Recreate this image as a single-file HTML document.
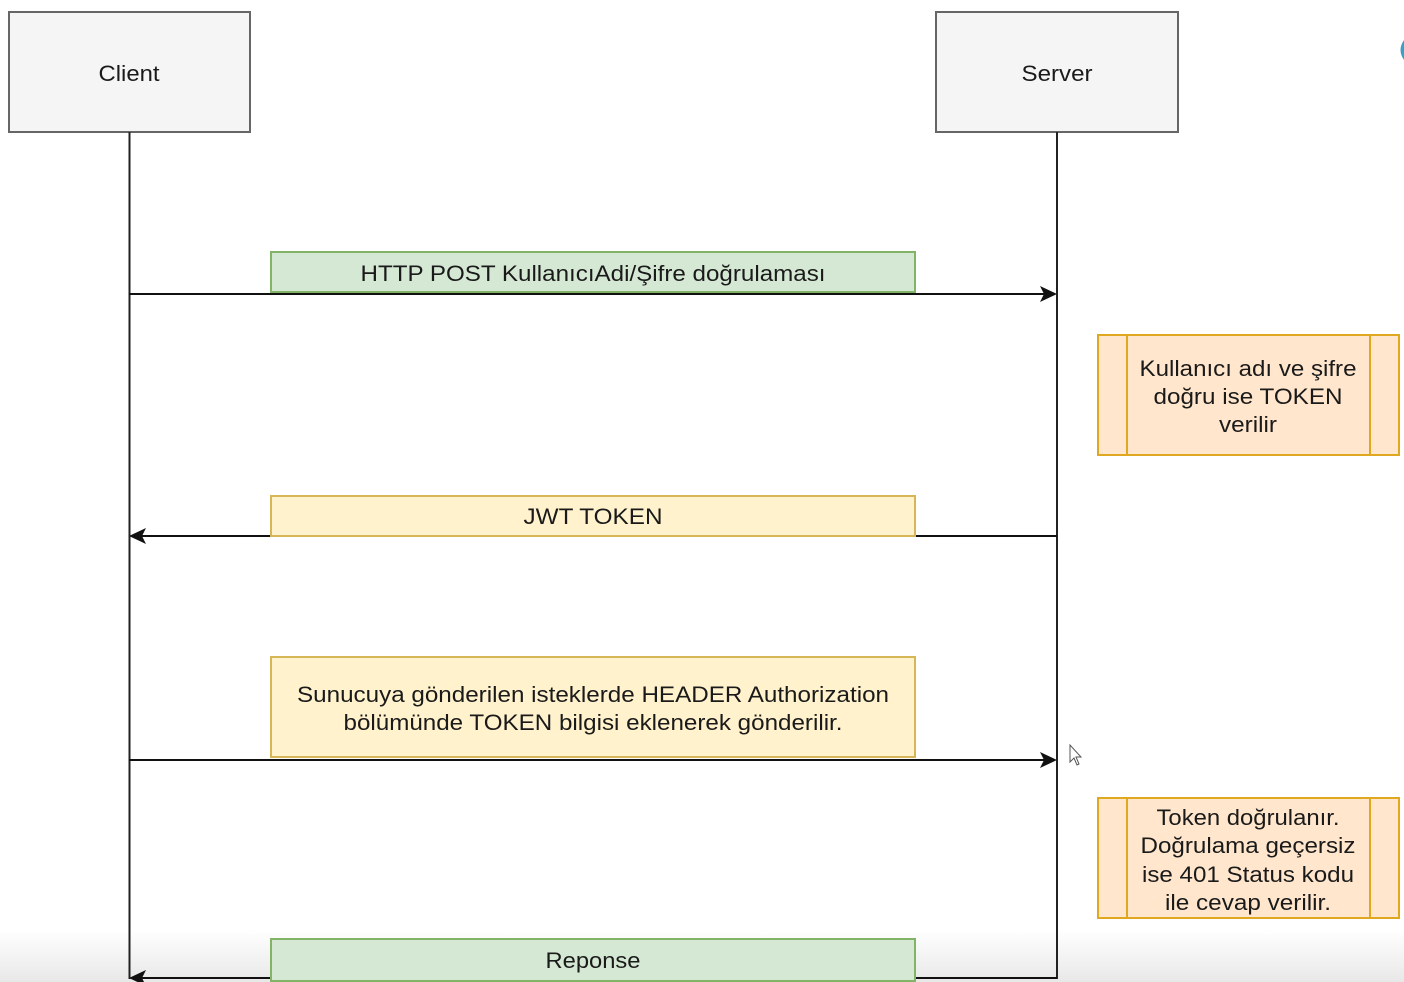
<!DOCTYPE html>
<html><head><meta charset="utf-8"><style>
html,body{margin:0;padding:0;background:#fff;width:1404px;height:982px;overflow:hidden}
svg{display:block}
text{font-family:"Liberation Sans",Arial,sans-serif;fill:#1a1a1a}
</style></head><body>
<svg width="1404" height="982" viewBox="0 0 1404 982" font-family="Liberation Sans, Arial, sans-serif">
<defs>
<linearGradient id="bg" x1="0" y1="0" x2="0" y2="1">
<stop offset="0" stop-color="#fff"/><stop offset="1" stop-color="#e8e8e8"/>
</linearGradient>
</defs>
<rect x="0" y="930" width="1404" height="52" fill="url(#bg)"/>
<rect x="9" y="12" width="241" height="120" fill="#f5f5f5" stroke="#666" stroke-width="2"/>
<text x="129" y="81" font-size="22" text-anchor="middle" textLength="61" lengthAdjust="spacingAndGlyphs">Client</text>
<rect x="936" y="12" width="242" height="120" fill="#f5f5f5" stroke="#666" stroke-width="2"/>
<text x="1057" y="81" font-size="22" text-anchor="middle" textLength="71" lengthAdjust="spacingAndGlyphs">Server</text>
<line x1="129.5" y1="132" x2="129.5" y2="979" stroke="#222" stroke-width="2"/>
<line x1="1057" y1="132" x2="1057" y2="979" stroke="#222" stroke-width="2"/>
<line x1="129" y1="294" x2="1045" y2="294" stroke="#111" stroke-width="2"/>
<polygon points="1057,294 1040,286 1044,294 1040,302" fill="#111"/>
<line x1="141" y1="536" x2="1057" y2="536" stroke="#111" stroke-width="2"/>
<polygon points="129,536 146,528 142,536 146,544" fill="#111"/>
<line x1="129" y1="760" x2="1045" y2="760" stroke="#111" stroke-width="2"/>
<polygon points="1057,760 1040,752 1044,760 1040,768" fill="#111"/>
<line x1="141" y1="978" x2="1057" y2="978" stroke="#111" stroke-width="2"/>
<polygon points="129,978 146,970 142,978 146,986" fill="#111"/>
<rect x="271" y="252" width="644" height="40" fill="#d5e8d4" stroke="#82b366" stroke-width="2"/>
<text x="593" y="281" font-size="22" text-anchor="middle" textLength="465" lengthAdjust="spacingAndGlyphs">HTTP POST KullanıcıAdi/Şifre doğrulaması</text>
<rect x="271" y="496" width="644" height="40" fill="#fff2cc" stroke="#d6b656" stroke-width="2"/>
<text x="593" y="524" font-size="22" text-anchor="middle" textLength="139" lengthAdjust="spacingAndGlyphs">JWT TOKEN</text>
<rect x="271" y="657" width="644" height="100" fill="#fff2cc" stroke="#d6b656" stroke-width="2"/>
<text x="593" y="702" font-size="22" text-anchor="middle" textLength="592" lengthAdjust="spacingAndGlyphs">Sunucuya gönderilen isteklerde HEADER Authorization</text>
<text x="593" y="730" font-size="22" text-anchor="middle" textLength="499" lengthAdjust="spacingAndGlyphs">bölümünde TOKEN bilgisi eklenerek gönderilir.</text>
<rect x="271" y="939" width="644" height="42" fill="#d5e8d4" stroke="#82b366" stroke-width="2"/>
<text x="593" y="968" font-size="22" text-anchor="middle" textLength="95" lengthAdjust="spacingAndGlyphs">Reponse</text>
<rect x="1098" y="335" width="301" height="120" fill="#ffe6cc" stroke="#e0a820" stroke-width="2"/>
<line x1="1127" y1="335" x2="1127" y2="455" stroke="#e0a820" stroke-width="2"/>
<line x1="1370" y1="335" x2="1370" y2="455" stroke="#e0a820" stroke-width="2"/>
<text x="1248" y="376" font-size="22" text-anchor="middle" textLength="217" lengthAdjust="spacingAndGlyphs">Kullanıcı adı ve şifre</text>
<text x="1248" y="404" font-size="22" text-anchor="middle" textLength="189" lengthAdjust="spacingAndGlyphs">doğru ise TOKEN</text>
<text x="1248" y="432" font-size="22" text-anchor="middle" textLength="58" lengthAdjust="spacingAndGlyphs">verilir</text>
<rect x="1098" y="798" width="301" height="120" fill="#ffe6cc" stroke="#e0a820" stroke-width="2"/>
<line x1="1127" y1="798" x2="1127" y2="918" stroke="#e0a820" stroke-width="2"/>
<line x1="1370" y1="798" x2="1370" y2="918" stroke="#e0a820" stroke-width="2"/>
<text x="1248" y="825" font-size="22" text-anchor="middle" textLength="183" lengthAdjust="spacingAndGlyphs">Token doğrulanır.</text>
<text x="1248" y="853" font-size="22" text-anchor="middle" textLength="215" lengthAdjust="spacingAndGlyphs">Doğrulama geçersiz</text>
<text x="1248" y="882" font-size="22" text-anchor="middle" textLength="212" lengthAdjust="spacingAndGlyphs">ise 401 Status kodu</text>
<text x="1248" y="910" font-size="22" text-anchor="middle" textLength="166" lengthAdjust="spacingAndGlyphs">ile cevap verilir.</text>
<path d="M1070,745 L1070,762 L1074,758 L1077,765 L1079,764 L1076,757 L1081,757 Z" fill="#fff" stroke="#555" stroke-width="1"/>
<path d="M1404,40 Q1397,50 1404,60 Z" fill="#3aa0c8"/>
</svg>
</body></html>
